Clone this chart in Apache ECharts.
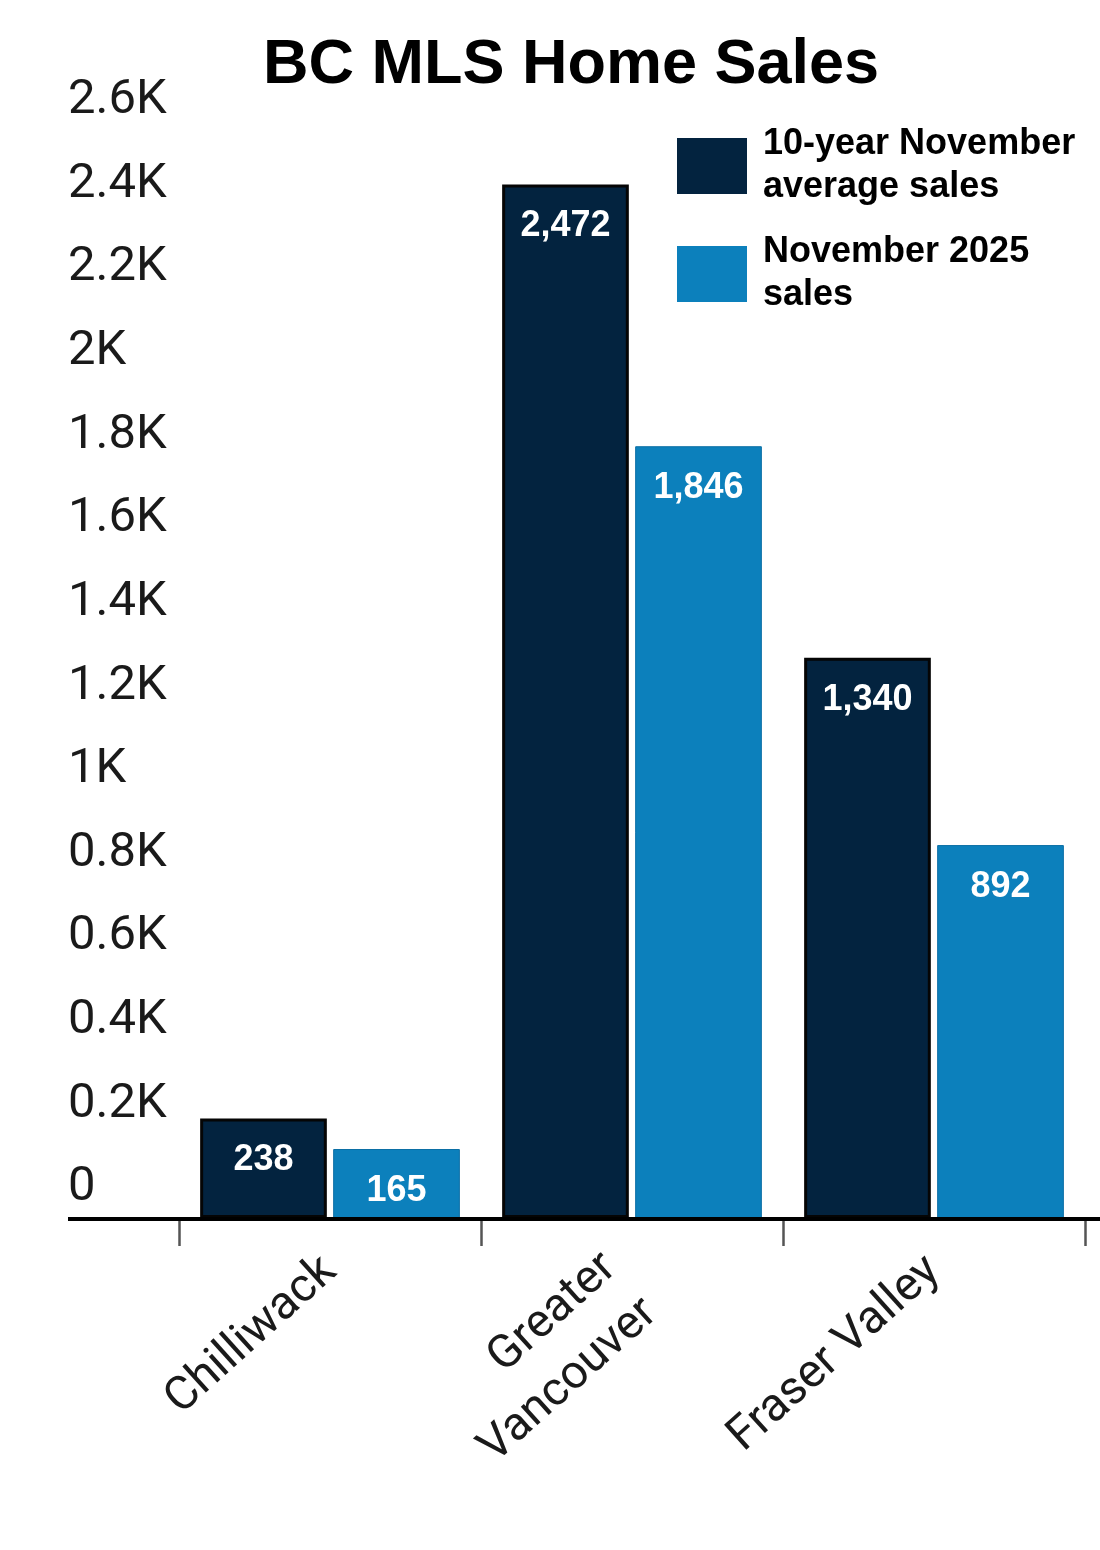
<!DOCTYPE html>
<html><head><meta charset="utf-8">
<script src="https://cdn.jsdelivr.net/npm/echarts@6/dist/echarts.min.js"></script>
<style>html,body{margin:0;padding:0;background:#fff}#c{width:1100px;height:1550px}</style>
</head><body><div id="c"></div>
<script>
const categories = ['Chilliwack', 'Greater\nVancouver', 'Fraser Valley'];
const avgSales = [238, 2472, 1340];
const nov2025Sales = [165, 1846, 892];
const seriesNames = ['10-year November\naverage sales', 'November 2025\nsales'];
const yMin = 0, yMax = 2600, yStep = 200;

const chart = echarts.init(document.getElementById('c'));
const labelStyle = {
  show: true, position: 'insideTop', distance: 24,
  color: '#fff', fontFamily: 'Liberation Sans, Arial, sans-serif',
  fontWeight: 'bold', fontSize: 36,
  formatter: p => p.value.toLocaleString('en-US')
};
const catFont = { fontFamily: 'Roboto, sans-serif', fontSize: 47, lineHeight: 61, color: '#1a1a1a' };
chart.setOption({
  animation: false,
  title: {
    text: 'BC MLS Home Sales', left: 258, top: 29,
    textStyle: { fontFamily: 'Liberation Sans, Arial, sans-serif', fontWeight: 'bold', fontSize: 63, color: '#000' }
  },
  legend: {
    orient: 'vertical', left: 672, top: 118, itemGap: 22,
    itemWidth: 70, itemHeight: 56, icon: 'rect',
    itemStyle: { borderWidth: 0 },
    textStyle: { fontFamily: 'Liberation Sans, Arial, sans-serif', fontWeight: 'bold', fontSize: 36, lineHeight: 43, color: '#000', padding: [0, 0, 0, 11] },
    data: seriesNames
  },
  grid: { left: 179, right: 15, top: 131, bottom: 332, containLabel: false },
  xAxis: {
    type: 'category', data: categories,
    axisLine: { show: false },
    axisTick: { show: true, length: 28, lineStyle: { color: '#555', width: 2.5 } },
    axisLabel: Object.assign({
      rotate: 42, margin: 47, interval: 0,
      formatter: v => v.indexOf('\n') >= 0
        ? v.split('\n').map(s => '{m|' + s + '}').join('\n')
        : v,
      rich: {
        m: Object.assign({ padding: [27, 14, 0, 0] }, catFont)
      }
    }, catFont)
  },
  yAxis: {
    type: 'value', min: yMin, max: yMax, interval: yStep,
    splitLine: { show: false }, axisLine: { show: false }, axisTick: { show: false },
    axisLabel: {
      align: 'left', margin: 111, verticalAlign: 'bottom', lineHeight: 60,
      fontFamily: 'Roboto, sans-serif', fontSize: 49, color: '#1a1a1a',
      formatter: v => v === 0 ? '0' : (v / 1000) + 'K'
    }
  },
  series: [
    {
      name: seriesNames[0], type: 'bar', data: avgSales,
      barCategoryGap: '14%', barGap: '5%',
      itemStyle: { color: '#03233f', borderColor: '#050505', borderWidth: 3 },
      label: labelStyle
    },
    {
      name: seriesNames[1], type: 'bar', data: nov2025Sales,
      itemStyle: { color: '#0c80bc', borderColor: '#0a6ea5', borderWidth: 1 },
      label: labelStyle
    }
  ]
});
const y0 = chart.convertToPixel({ yAxisIndex: 0 }, 0);
chart.setOption({
  graphic: [{
    type: 'line', z: 100,
    shape: { x1: 68, y1: y0 + 1, x2: 1100, y2: y0 + 1 },
    style: { stroke: '#000', lineWidth: 4 }
  }]
});
</script></body></html>
